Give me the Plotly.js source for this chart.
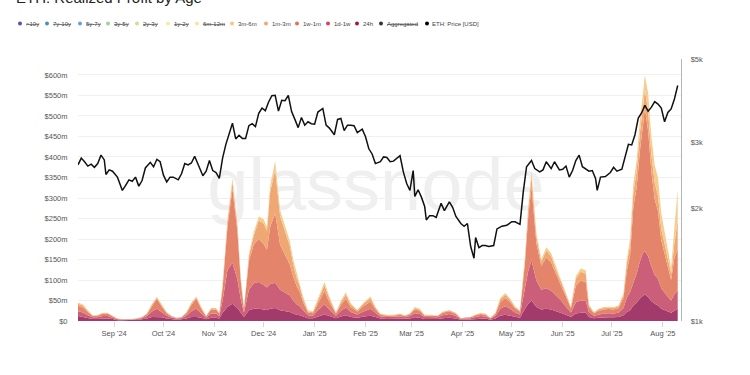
<!DOCTYPE html>
<html><head><meta charset="utf-8">
<script src="https://cdn.plot.ly/plotly-3.0.1.min.js"></script>
<style>html,body{margin:0;padding:0;background:#fff}#chart{width:750px;height:375px}</style>
</head><body><div id="chart"></div>
<script>
// ETH price (USD)
const priceDates = ["2024-08-10","2024-08-12","2024-08-14","2024-08-16","2024-08-18","2024-08-20","2024-08-22","2024-08-24","2024-08-26","2024-08-27","2024-08-29","2024-08-31",
"2024-09-03","2024-09-06","2024-09-08","2024-09-10","2024-09-12","2024-09-14","2024-09-16","2024-09-18","2024-09-20","2024-09-23","2024-09-25","2024-09-27","2024-09-29",
"2024-10-01","2024-10-03","2024-10-05","2024-10-07","2024-10-10","2024-10-12","2024-10-14","2024-10-16","2024-10-18","2024-10-20","2024-10-22","2024-10-25","2024-10-27","2024-10-29","2024-10-31",
"2024-11-02","2024-11-04","2024-11-06","2024-11-08","2024-11-10","2024-11-12","2024-11-14","2024-11-16","2024-11-18","2024-11-20","2024-11-22","2024-11-24","2024-11-26","2024-11-28","2024-11-30",
"2024-12-02","2024-12-04","2024-12-06","2024-12-08","2024-12-10","2024-12-12","2024-12-14","2024-12-16","2024-12-18","2024-12-20","2024-12-22","2024-12-24","2024-12-26","2024-12-28","2024-12-30",
"2025-01-01","2025-01-03","2025-01-06","2025-01-08","2025-01-10","2025-01-13","2025-01-15","2025-01-17","2025-01-19","2025-01-21","2025-01-23","2025-01-25","2025-01-27","2025-01-30",
"2025-02-01","2025-02-03","2025-02-05","2025-02-07","2025-02-10","2025-02-12","2025-02-14","2025-02-16","2025-02-18","2025-02-20","2025-02-22","2025-02-24","2025-02-26","2025-02-28",
"2025-03-02","2025-03-03","2025-03-05","2025-03-07","2025-03-09","2025-03-10","2025-03-12","2025-03-14","2025-03-16","2025-03-19","2025-03-21","2025-03-24","2025-03-26","2025-03-28","2025-03-31",
"2025-04-02","2025-04-04","2025-04-06","2025-04-08","2025-04-09","2025-04-11","2025-04-13","2025-04-15","2025-04-17","2025-04-20","2025-04-22","2025-04-25","2025-04-28",
"2025-05-01","2025-05-03","2025-05-06","2025-05-08","2025-05-10","2025-05-13","2025-05-15","2025-05-18","2025-05-20","2025-05-22","2025-05-25","2025-05-27","2025-05-30",
"2025-06-01","2025-06-03","2025-06-05","2025-06-07","2025-06-09","2025-06-11","2025-06-13","2025-06-15","2025-06-17","2025-06-19","2025-06-21","2025-06-22","2025-06-24","2025-06-27","2025-06-30",
"2025-07-02","2025-07-04","2025-07-07","2025-07-09","2025-07-11","2025-07-13","2025-07-15","2025-07-17","2025-07-19","2025-07-21","2025-07-23","2025-07-25","2025-07-27","2025-07-29","2025-07-31",
"2025-08-02","2025-08-04","2025-08-06","2025-08-08","2025-08-10"];
const priceUSD = [2610,2720,2660,2590,2620,2570,2630,2770,2690,2460,2530,2510,
2420,2230,2300,2380,2360,2420,2290,2370,2560,2650,2580,2700,2660,
2450,2350,2420,2420,2380,2470,2630,2610,2640,2750,2620,2440,2510,2680,2520,
2490,2400,2720,2960,3180,3370,3060,3130,3070,3070,3320,3360,3300,3580,3700,
3640,3840,3990,4000,3630,3880,3870,4000,3620,3450,3280,3490,3330,3400,3360,
3350,3610,3690,3330,3270,3140,3450,3470,3220,3330,3330,3320,3180,3250,
3100,2880,2790,2630,2660,2740,2730,2660,2670,2720,2760,2500,2330,2230,
2520,2150,2240,2140,2020,1860,1910,1910,1890,2060,1970,2080,2010,1900,1820,
1790,1820,1580,1470,1670,1570,1590,1590,1580,1590,1760,1790,1800,
1840,1840,1810,2210,2580,2680,2550,2500,2530,2660,2550,2660,2530,
2540,2590,2420,2520,2680,2770,2580,2540,2510,2520,2400,2230,2420,2430,2490,
2570,2510,2540,2770,2960,2950,3140,3480,3590,3760,3630,3720,3850,3790,3700,
3400,3600,3680,3910,4250];

// Realized profit by age (USD millions)
const profitDates = ["2024-08-10","2024-08-13","2024-08-16","2024-08-19","2024-08-22","2024-08-25","2024-08-28","2024-08-31",
"2024-09-03","2024-09-06","2024-09-09","2024-09-12","2024-09-15","2024-09-18","2024-09-21","2024-09-24","2024-09-27","2024-09-30",
"2024-10-03","2024-10-06","2024-10-09","2024-10-12","2024-10-15","2024-10-18","2024-10-21","2024-10-24","2024-10-27","2024-10-30",
"2024-11-02","2024-11-04","2024-11-06","2024-11-09","2024-11-12","2024-11-15","2024-11-17","2024-11-19","2024-11-22","2024-11-25","2024-11-28",
"2024-12-01","2024-12-03","2024-12-05","2024-12-08","2024-12-11","2024-12-14","2024-12-17","2024-12-19","2024-12-21","2024-12-23","2024-12-25","2024-12-28","2024-12-31",
"2025-01-03","2025-01-07","2025-01-10","2025-01-14","2025-01-17","2025-01-20","2025-01-23","2025-01-27","2025-01-31",
"2025-02-04","2025-02-07","2025-02-10","2025-02-14","2025-02-18","2025-02-22","2025-02-25","2025-02-28",
"2025-03-03","2025-03-06","2025-03-09","2025-03-13","2025-03-17","2025-03-20","2025-03-24","2025-03-28","2025-03-31",
"2025-04-03","2025-04-06","2025-04-09","2025-04-12","2025-04-15","2025-04-18","2025-04-21","2025-04-24","2025-04-27","2025-04-30",
"2025-05-03","2025-05-06","2025-05-09","2025-05-11","2025-05-13","2025-05-16","2025-05-19","2025-05-22","2025-05-25","2025-05-28","2025-05-31",
"2025-06-03","2025-06-06","2025-06-09","2025-06-12","2025-06-15","2025-06-17","2025-06-20","2025-06-23","2025-06-26","2025-06-29",
"2025-07-02","2025-07-05","2025-07-08","2025-07-10","2025-07-12","2025-07-14","2025-07-16","2025-07-18","2025-07-20","2025-07-21","2025-07-23","2025-07-25","2025-07-27","2025-07-29","2025-07-31",
"2025-08-03","2025-08-06","2025-08-08","2025-08-10"];
const profit24h = [12,10,7,5,5,6,6,5,
2,2,2,2,3,4,6,10,10,9,
6,4,3,4,6,10,10,8,4,8,
8,6,20,35,42,32,20,10,26,30,30,
28,27,30,32,26,24,22,18,15,14,11,7,7,
11,16,12,7,11,14,10,8,11,
13,10,6,5,5,6,5,6,
9,8,5,5,5,7,8,6,3,
3,4,5,6,6,3,6,13,15,13,
10,8,30,42,50,34,28,30,28,24,20,
15,10,18,20,20,10,7,8,9,9,
9,10,14,22,26,38,45,55,62,65,58,48,42,38,30,
24,20,25,30];
const profit1d1w = [12,11,7,4,4,6,6,3,
2,1,1,1,2,3,6,13,20,12,
7,4,3,3,7,14,20,11,4,10,
10,6,30,90,100,70,35,10,50,62,65,
60,55,60,61,50,45,40,32,26,22,15,7,6,
15,25,16,6,14,19,12,8,13,
17,10,5,5,5,5,4,6,
10,9,5,5,4,7,9,6,2,
3,3,5,6,5,3,6,17,21,17,
11,8,50,80,98,65,48,50,46,38,30,
20,11,28,30,30,11,6,8,9,10,
9,10,18,35,45,55,70,90,105,105,100,85,70,65,50,
40,30,40,45];
const profit1w1m = [13,12,8,3,4,6,6,3,
1,1,1,1,1,2,5,14,24,14,
6,3,1,2,6,15,25,11,3,10,
10,6,30,105,180,118,45,8,70,95,105,
100,92,140,170,110,92,75,58,45,35,20,7,6,
16,32,18,5,14,21,12,7,13,
17,9,4,3,3,4,3,4,
9,8,3,3,3,6,7,5,1,
2,2,4,5,4,1,5,16,20,16,
10,7,60,130,180,90,58,75,68,50,36,
24,10,40,48,45,12,6,9,10,10,
10,11,24,65,88,185,210,270,315,350,305,230,185,165,117,
85,50,90,100];
const profit1m3m = [5,5,3,1,1,1,1,1,
1,0,0,1,1,1,1,3,3,3,
2,1,1,1,2,4,3,3,1,3,
3,1,7,13,17,13,6,1,12,22,45,
50,46,85,105,70,57,45,30,20,14,8,3,3,
8,15,9,2,7,10,6,3,6,
9,4,2,1,1,2,1,2,
4,3,1,1,1,2,2,2,1,
1,1,1,2,2,1,2,7,8,6,
3,2,10,20,25,17,11,17,16,12,10,
6,3,17,22,21,5,2,4,4,4,
4,5,8,18,26,35,40,45,45,45,48,42,40,38,28,
22,15,35,70];
const profit3m6m = [3,2,1,1,1,1,1,0,
0,0,0,0,0,0,1,2,2,2,
1,0,0,0,1,2,2,2,0,1,
1,1,3,7,9,7,3,1,5,8,10,
10,10,15,22,14,12,12,12,14,10,6,2,2,
4,7,5,1,4,6,3,1,3,
4,2,1,1,1,1,1,1,
2,2,1,1,1,1,1,1,0,
0,0,1,1,1,0,1,3,4,3,
2,1,5,8,12,9,5,8,7,6,4,
3,1,7,8,8,2,1,1,2,2,
2,2,4,10,15,22,28,30,33,35,45,44,43,44,38,
29,15,40,75];

// Axis ticks
const yTickVals = [0,50,100,150,200,250,300,350,400,450,500,550,600];
const yTickText = ["$0","$50m","$100m","$150m","$200m","$250m","$300m","$350m","$400m","$450m","$500m","$550m","$600m"];
const y2TickVals = [1000,2000,3000,5000];
const y2TickText = ["$1k","$2k","$3k","$5k"];

// Legend
const legendNames = [">10y","7y-10y","5y-7y","3y-5y","2y-3y","1y-2y","6m-12m","3m-6m","1m-3m","1w-1m","1d-1w","24h","Aggregated","ETH: Price [USD]"];
const legendColors = ["#5b4ea8","#4a8fc2","#62a3cc","#9fd0a2","#c9e39b","#f8eaa2","#fbe2a0","#f9c586","#f4a46e","#e8704f","#d1445f","#9b1b4d","#333333","#000000"];
const legendHidden = [true,true,true,true,true,true,true,false,false,false,false,false,true,false];
const legendPx = [20,47,80,108,137,168,197,232,266,297,328,357,381,427];

// Stack series
const seriesNames = ["24h","1d-1w","1w-1m","1m-3m","3m-6m"];
const seriesValues = [profit24h, profit1d1w, profit1w1m, profit1m3m, profit3m6m];
const seriesFill = ["#a23b6b","#cb5f79","#e3846b","#efa873","#f5cd8d"];

const L = 78, W = 603, T = 59, H = 262;
const px2x = p => (p - L) / W;
const py2y = p => (T + H - p) / H;

const traces = seriesNames.map((n, i) => ({
  type: 'scatter', mode: 'lines', name: n, x: profitDates, y: seriesValues[i],
  stackgroup: 'age', line: {width: 0, color: seriesFill[i]}, fillcolor: seriesFill[i],
  hoverinfo: 'skip', yaxis: 'y'
}));
traces.push({
  type: 'scatter', mode: 'lines', name: 'ETH: Price [USD]', x: priceDates, y: priceUSD,
  yaxis: 'y2', line: {color: '#111', width: 1.5}, hoverinfo: 'skip'
});

const annotations = [];
const shapes = [];
legendNames.forEach((n, i) => {
  const txt = legendHidden[i] ? '<span style="text-decoration:line-through">' + n.replace('>', '&gt;') + '</span>' : n.replace('>', '&gt;');
  annotations.push({
    xref: 'paper', yref: 'paper', x: px2x(legendPx[i] + 3.5), y: py2y(23.5),
    xanchor: 'left', yanchor: 'middle', showarrow: false, text: txt,
    font: {size: 6, color: '#444', family: 'Liberation Sans, Arial, sans-serif'}
  });
  shapes.push({
    type: 'circle', xref: 'paper', yref: 'paper', xsizemode: 'pixel', ysizemode: 'pixel',
    xanchor: px2x(legendPx[i]), yanchor: py2y(23.5), x0: -2, x1: 2, y0: -2, y1: 2,
    fillcolor: legendColors[i], line: {width: 0}
  });
});
// watermark
shapes.push({
  type: 'rect', xref: 'paper', yref: 'paper', layer: 'below',
  x0: px2x(200), x1: px2x(552), y0: py2y(215), y1: py2y(140),
  line: {width: 0}, fillcolor: 'rgba(0,0,0,0)',
  label: {text: 'glassnode', textposition: 'middle center',
    font: {size: 74, color: '#efefef', family: 'Liberation Sans, Arial, sans-serif'}}
});

const tickFont = {size: 7.5, color: '#555', family: 'Liberation Sans, Arial, sans-serif'};
const layout = {
  width: 750, height: 375,
  margin: {l: L, r: 750 - L - W, t: T, b: 375 - T - H},
  paper_bgcolor: '#fff', plot_bgcolor: 'rgba(0,0,0,0)',
  showlegend: false,
  title: {text: 'ETH: Realized Profit by Age', x: 16/750, xanchor: 'left', xref: 'container',
    yref: 'container', y: 1 - 3/375, yanchor: 'bottom',
    font: {size: 15, color: '#222', family: 'Liberation Sans, Arial, sans-serif'}},
  xaxis: {type: 'date', range: ['2024-08-10', '2025-08-12'], tick0: '2024-09-01', dtick: 'M1',
    tickformat: "%b '%y", ticks: 'outside', ticklen: 5, tickcolor: '#d5d5d5',
    showgrid: false, zeroline: false, showline: false, tickfont: tickFont, fixedrange: true},
  yaxis: {range: [0, 639], tickvals: yTickVals, ticktext: yTickText, showgrid: true,
    gridcolor: '#f0f0f0', gridwidth: 1, zeroline: false, ticks: 'outside', ticklen: 8,
    tickcolor: 'rgba(0,0,0,0)', tickfont: tickFont, showline: false},
  yaxis2: {type: 'log', overlaying: 'y', side: 'right', range: [3, Math.log10(5000)],
    tickvals: y2TickVals, ticktext: y2TickText, showgrid: false, zeroline: false,
    showline: true, linecolor: '#b5b5b5', linewidth: 1.2, ticks: 'outside', ticklen: 7,
    tickcolor: 'rgba(0,0,0,0)', tickfont: tickFont},
  annotations: annotations,
  shapes: shapes
};
Plotly.newPlot('chart', traces, layout, {staticPlot: true, displayModeBar: false});
</script>
</body></html>
